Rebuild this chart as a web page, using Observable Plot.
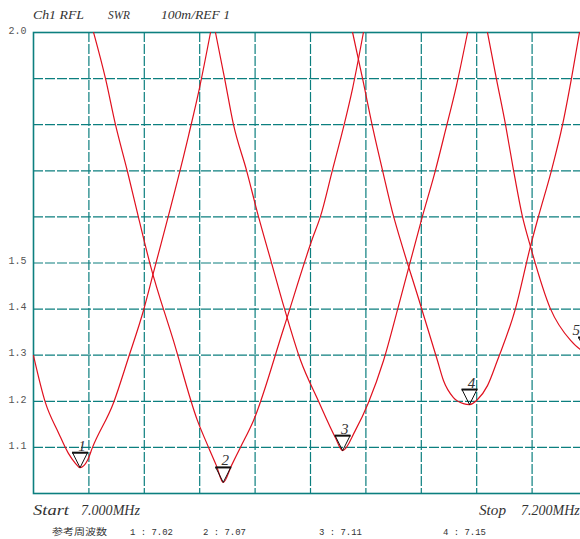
<!DOCTYPE html>
<html><head><meta charset="utf-8">
<script src="https://cdn.jsdelivr.net/npm/d3@7"></script>
<script src="https://cdn.jsdelivr.net/npm/@observablehq/plot@0.6"></script>
<style>
html,body{margin:0;padding:0;background:#fff;width:580px;height:539px;overflow:hidden;}
#chart{position:relative;width:580px;height:539px;overflow:hidden;}
</style></head><body><div id="chart"></div>
<script>
// ---- data (frequency in MHz, SWR) ----
const freqTicks = [7.02, 7.04, 7.06, 7.08, 7.10, 7.12, 7.14, 7.16, 7.18];
const swrGrid = [1.1, 1.2, 1.3, 1.4, 1.5, 1.6, 1.7, 1.8, 1.9];
const swrLabels = [2.0, 1.5, 1.4, 1.3, 1.2, 1.1];

const curve1 = [[7.0000,1.299],[7.0043,1.197],[7.0090,1.132],[7.0126,1.087],[7.0152,1.065],[7.0168,1.056],[7.0195,1.072],[7.0213,1.100],[7.0289,1.197],[7.0343,1.295],[7.0397,1.397],[7.0433,1.479],[7.0560,1.777],[7.0599,1.879],[7.0639,2.000]];
const curve2 = [[7.0217,2.000],[7.0260,1.900],[7.0296,1.800],[7.0339,1.699],[7.0379,1.599],[7.0422,1.495],[7.0505,1.332],[7.0592,1.158],[7.0632,1.100],[7.0660,1.061],[7.0685,1.024],[7.0715,1.061],[7.0747,1.100],[7.0794,1.158],[7.0903,1.358],[7.1007,1.553],[7.1036,1.601],[7.1079,1.701],[7.1116,1.787],[7.1152,1.879],[7.1191,2.000]];
const curve3 = [[7.0657,2.000],[7.0690,1.900],[7.0722,1.800],[7.0769,1.701],[7.0812,1.601],[7.0859,1.501],[7.0906,1.401],[7.0964,1.289],[7.1029,1.200],[7.1090,1.121],[7.1116,1.093],[7.1162,1.137],[7.1209,1.197],[7.1264,1.289],[7.1321,1.414],[7.1404,1.601],[7.1451,1.701],[7.1487,1.787],[7.1527,1.885],[7.1567,2.000]];
const curve4 = [[7.1152,2.000],[7.1188,1.900],[7.1227,1.787],[7.1260,1.701],[7.1300,1.601],[7.1325,1.549],[7.1390,1.423],[7.1458,1.289],[7.1480,1.245],[7.1516,1.208],[7.1552,1.195],[7.1574,1.193],[7.1603,1.204],[7.1639,1.234],[7.1675,1.289],[7.1740,1.401],[7.1794,1.536],[7.1823,1.601],[7.1870,1.701],[7.1910,1.800],[7.1942,1.900],[7.1971,2.000]];
const curve5 = [[7.1639,2.000],[7.1671,1.900],[7.1704,1.800],[7.1733,1.701],[7.1765,1.601],[7.1794,1.536],[7.1866,1.401],[7.1939,1.332],[7.1975,1.312],[7.1995,1.306]];

const markerNo = [1, 2, 3, 4, 5];
const markerFreq = [7.0168, 7.0685, 7.1116, 7.1574, 7.1995];
const markerSwr = [1.056, 1.024, 1.093, 1.193, 1.306];

const titleParts = ["Ch1 RFL", "SWR", "100m/REF 1"];
const startLabel = ["Start", "7.000MHz"];
const stopLabel = ["Stop", "7.200MHz"];
const refTitle = "参考周波数";
const refFreqLabels = ["1 : 7.02", "2 : 7.07", "3 : 7.11", "4 : 7.15"];

// ---- build ----
const teal = "#0c7f7f";
const red = "#e0101e";
const rows = [curve1, curve2, curve3, curve4, curve5]
  .flatMap((c, i) => c.map(([f, s]) => ({curve: i + 1, f, s})));
const markers = markerNo.map((n, i) => ({n, f: markerFreq[i], s: markerSwr[i]}));
const lastMarker = markerNo.length;

const triangleDown = {draw(ctx) { ctx.moveTo(0, 0); ctx.lineTo(-7.5, -15); ctx.lineTo(7.5, -15); ctx.closePath(); }};
const markerBar = {draw(ctx) { ctx.moveTo(-8, -15); ctx.lineTo(8, -15); }};
const labelStyle = {x: "f", y: "s", text: d => String(d.n), dy: -17, lineAnchor: "bottom",
  fontSize: 15, fontStyle: "italic", fontFamily: "Liberation Serif", fill: "#333"};

const svg = Plot.plot({
  width: 590, height: 539,
  marginLeft: 33, marginRight: 3, marginTop: 32, marginBottom: 46,
  x: {domain: [7.0, 7.2], axis: null},
  y: {domain: [1.0, 2.0], axis: null},
  style: {background: "white", fontFamily: "Liberation Mono"},
  marks: [
    Plot.ruleY(swrGrid, {stroke: teal, strokeWidth: 1.2, strokeDasharray: "10,2"}),
    Plot.ruleX(freqTicks, {stroke: teal, strokeWidth: 1.2, strokeDasharray: "10,2"}),
    Plot.frame({stroke: teal, strokeWidth: 1.6}),
    Plot.line(rows, {x: "f", y: "s", z: "curve", stroke: red, strokeWidth: 1.2, curve: "monotone-x"}),
    Plot.dot(markers, {x: "f", y: "s", symbol: triangleDown, fill: "none", stroke: "#111", strokeWidth: 1}),
    Plot.dot(markers, {x: "f", y: "s", symbol: markerBar, fill: "none", stroke: "#111", strokeWidth: 2}),
    Plot.text(markers.filter(d => d.n !== lastMarker), {...labelStyle, dx: 2}),
    Plot.text(markers.filter(d => d.n === lastMarker), {...labelStyle, dx: -6, textAnchor: "end"}),
    Plot.axisY(swrLabels, {anchor: "left", tickSize: 0, tickPadding: 7, tickFormat: d => d.toFixed(1),
      fontSize: 10, fill: "#555", dy: -2, label: null})
  ]
});
svg.style.maxWidth = "none";

const sel = d3.select(svg);
function addText(str, x, y, len, font, size, style, fill) {
  const t = sel.append("text").attr("x", x).attr("y", y).text(str)
    .attr("text-anchor", "start")
    .attr("font-family", font).attr("font-size", size).attr("fill", fill)
    .attr("font-style", style);
  if (len) t.attr("textLength", len).attr("lengthAdjust", "spacingAndGlyphs");
}
const serif = "Liberation Serif";
addText(titleParts[0], 33, 19, 51, serif, 13.5, "italic", "#333");
addText(titleParts[1], 108, 19, 22, serif, 13.5, "italic", "#333");
addText(titleParts[2], 161, 19, 69, serif, 13.5, "italic", "#333");
addText(startLabel[0], 33, 515, 36, serif, 14, "italic", "#333");
addText(startLabel[1], 81, 515, 59, serif, 14, "italic", "#333");
addText(stopLabel[0], 479, 515, 27, serif, 14, "italic", "#333");
addText(stopLabel[1], 521, 515, null, serif, 14, "italic", "#333");
addText(refTitle, 52, 535, 55, "Noto Sans CJK JP", 9, "normal", "#333");
const refX = [130, 203, 319, 443];
refFreqLabels.forEach((s, i) => addText(s, refX[i], 535, 43, "Liberation Mono", 9, "normal", "#333"));

document.getElementById("chart").appendChild(svg);
</script></body></html>
